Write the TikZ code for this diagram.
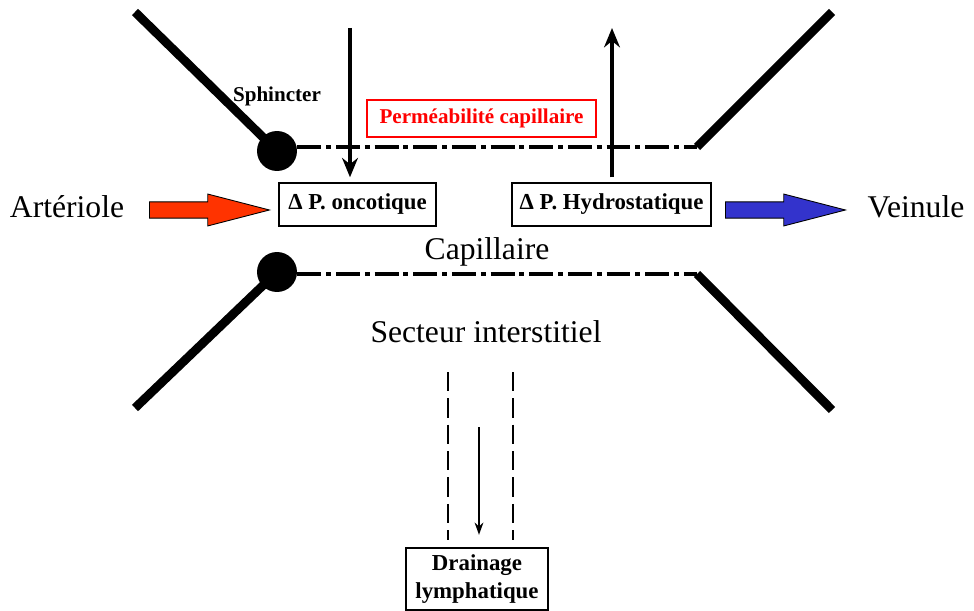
\documentclass[tikz,border=0pt]{standalone}
\usepackage{fontspec}
\setmainfont{Liberation Serif}
\usetikzlibrary{positioning, calc}
\usetikzlibrary{arrows.meta, shapes.arrows}

\definecolor{rougeart}{RGB}{255,51,0}
\definecolor{bleuvein}{RGB}{51,51,204}

\begin{document}
\begin{tikzpicture}[x=0.02cm, y=-0.02cm,
    paroi/.style={line width=5pt},
    capil/.style={line width=2.6pt, dash pattern=on 13.6pt off 2.8pt on 2.8pt off 2.8pt},
    boite/.style={draw, line width=0.8pt, font=\bfseries\fontsize{13}{15}\selectfont, inner sep=0pt, align=center},
    grand/.style={font=\fontsize{18}{20}\selectfont},
    fleche/.style={single arrow, draw, line width=0.5pt, inner xsep=0pt, inner ysep=0.155cm, minimum height=2.4cm,
                   single arrow head extend=0.155cm, single arrow tip angle=29, anchor=tail}]
\useasboundingbox (0,0) rectangle (974,611);

% sphincters
\node[circle, fill, inner sep=0pt, minimum size=0.8cm] (s1) at (277,151) {};
\node[circle, fill, inner sep=0pt, minimum size=0.8cm] (s2) at (277,272) {};
\coordinate (h1) at (135,12);   \coordinate (b1) at (135,408);
\coordinate (h2) at (697,147);  \coordinate (b2) at (697,274);
\coordinate (h3) at (832,12);   \coordinate (b3) at (832,410);

\draw[paroi] (h1) -- (s1.center);
\draw[paroi] (b1) -- (s2.center);
\draw[paroi] (h2) -- (h3);
\draw[paroi] (b2) -- (b3);
\draw[capil] (s1.east |- h2) -- (h2);
\draw[capil] (s2.east |- b2) -- (b2);

% textes
\node[font=\bfseries\fontsize{12}{14}\selectfont] (sph) at (277,96) {Sphincter};
\node[draw=red, line width=0.6pt, text=red, font=\bfseries\fontsize{12}{14}\selectfont,
      minimum width=4.58cm, minimum height=0.74cm, inner sep=0pt] (perm) at (481.5,118.5) {Perméabilité capillaire};
\node[boite, minimum width=3.14cm, minimum height=0.86cm] (onco) at (357.5,204.5) {Δ P. oncotique};
\node[boite, minimum width=3.98cm, minimum height=0.86cm] (hydro) at (611.5,204.5) {Δ P. Hydrostatique};
\node[grand] (art) at (67,207) {Artériole};
\node[grand] (ven) at (916,207) {Veinule};
\node[grand] (cap) at (487,252) {Capillaire};
\node[grand] (sect) at (486,332) {Secteur interstitiel};
\node[boite, minimum width=2.84cm, minimum height=1.24cm, font=\bfseries\fontsize{13}{16}\selectfont] (drain) at (477,579) {Drainage\\lymphatique};

% fleches de flux
\node[fleche, fill=rougeart] (fa) at (149,210) {};
\node[fleche, fill=bleuvein] (fv) at (725,210) {};

% pressions
\coordinate (dh) at (350,28);
\coordinate (uh) at (612,28);
\draw[line width=2.6pt, -{Stealth[length=11pt, width=9pt]}, shorten >=0.1cm] (dh) -- (dh |- onco.north);
\draw[line width=2.6pt, -{Stealth[length=11pt, width=9pt]}, shorten <=0.1cm] (uh |- hydro.north) -- (uh);

% drainage
\coordinate (l1) at (448,372);  \coordinate (l2) at (513,372);
\coordinate (dd) at (479,427);
\draw[line width=1.5pt, dash pattern=on 11pt off 4pt] (l1) -- (l1 |- 0,540);
\draw[line width=1.5pt, dash pattern=on 11pt off 4pt] (l2) -- (l2 |- 0,540);
\draw[line width=1pt, -{Stealth[length=7pt, width=5pt]}, shorten >=0.25cm] (dd) -- (dd |- drain.north);
\end{tikzpicture}
\end{document}
